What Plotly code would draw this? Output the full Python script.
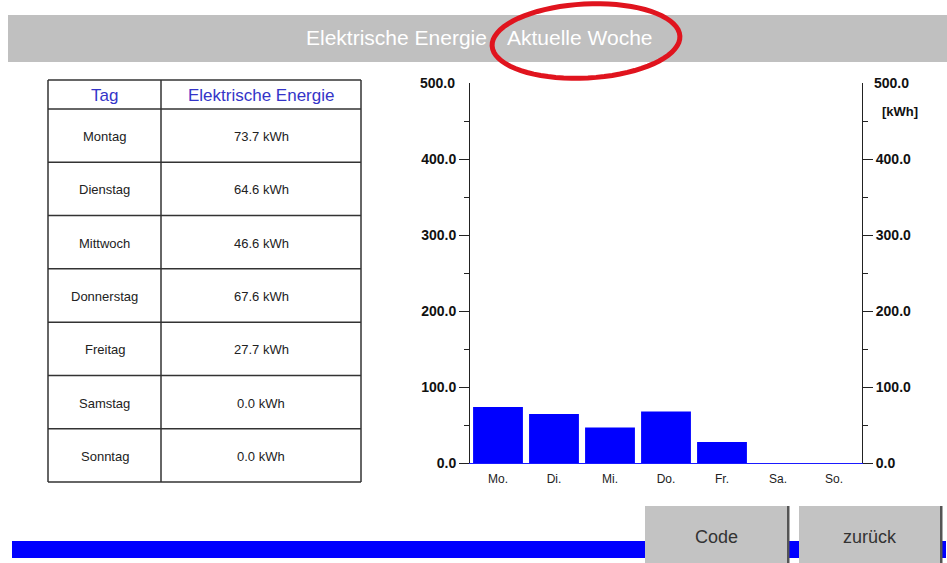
import numpy as np
import plotly.graph_objects as go

# Weekly electrical energy (kWh)
days_full = ["Montag", "Dienstag", "Mittwoch", "Donnerstag", "Freitag", "Samstag", "Sonntag"]
days_short = ["Mo.", "Di.", "Mi.", "Do.", "Fr.", "Sa.", "So."]
energy_kwh = [73.7, 64.6, 46.6, 67.6, 27.7, 0.0, 0.0]
axis_ticks = [0, 100, 200, 300, 400]
axis_minor = [50, 150, 250, 350, 450]
axis_max = 500

W, H = 947, 563
PL, PR, PT, PB = 470, 862, 83, 463  # plot area in pixels

FONT = "Liberation Sans, Arial, sans-serif"


def fx(x):
    return (x - PL) / (PR - PL)


def fy(y):
    return (PB - y) / (PB - PT)


def label(x, y, text, font, xanchor="center", yanchor="middle", yref="paper"):
    return dict(xref="paper", yref=yref, x=fx(x), y=fy(y) if yref == "paper" else y,
                xanchor=xanchor, yanchor=yanchor, text=text, showarrow=False, font=font)


fig = go.Figure()

fig.add_trace(go.Bar(
    x=days_short, y=energy_kwh,
    marker=dict(color="#0000ff", line=dict(width=0)),
    width=0.89, hoverinfo="x+y", showlegend=False,
))
fig.add_trace(go.Scatter(
    x=days_short, y=energy_kwh, yaxis="y2", mode="markers",
    marker=dict(opacity=0), hoverinfo="skip", showlegend=False,
))

shapes = []
ann = []

# Title bar
shapes.append(dict(type="rect", xref="paper", yref="paper", layer="below",
                   x0=fx(8), x1=fx(947), y0=fy(62), y1=fy(15),
                   fillcolor="#c0c0c0", line=dict(width=0)))
title_font = dict(family=FONT, size=21, color="white")
ann.append(label(489, 38, "Elektrische Energie", title_font, xanchor="right"))
ann.append(label(505, 38, "Aktuelle Woche", title_font, xanchor="left"))

# Red highlight ellipse (slightly tilted)
t = np.linspace(0, 2 * np.pi, 73)
cx, cy, a, b, rot = 586.0, 41.0, 94.0, 37.0, np.deg2rad(-3)
ex = cx + a * np.cos(t) * np.cos(rot) - b * np.sin(t) * np.sin(rot)
ey = cy + a * np.cos(t) * np.sin(rot) + b * np.sin(t) * np.cos(rot)
path = "M " + " L ".join(f"{fx(xx):.5f},{fy(yy):.5f}" for xx, yy in zip(ex, ey)) + " Z"
shapes.append(dict(type="path", xref="paper", yref="paper", path=path,
                   line=dict(color="#e0141e", width=5), fillcolor="rgba(0,0,0,0)", layer="above"))

# Table
tx0, tdiv, tx1 = 48, 161, 361
ty0, thead, ty1 = 80, 109, 482
row_h = (ty1 - thead) / len(days_full)
line_c = "#333333"
lw = 1.5
for yy in [ty0, thead] + [thead + row_h * (i + 1) for i in range(len(days_full))]:
    shapes.append(dict(type="line", xref="paper", yref="paper",
                       x0=fx(tx0), x1=fx(tx1), y0=fy(yy), y1=fy(yy),
                       line=dict(color=line_c, width=lw)))
for xx in [tx0, tdiv, tx1]:
    shapes.append(dict(type="line", xref="paper", yref="paper",
                       x0=fx(xx), x1=fx(xx), y0=fy(ty0), y1=fy(ty1),
                       line=dict(color=line_c, width=lw)))

head_font = dict(family=FONT, size=17, color="#3434c8")
cell_font = dict(family=FONT, size=13, color="#222222")
ann.append(label((tx0 + tdiv) / 2, (ty0 + thead) / 2 + 1, "Tag", head_font))
ann.append(label((tdiv + tx1) / 2, (ty0 + thead) / 2 + 1, "Elektrische Energie", head_font))
for i, (d, v) in enumerate(zip(days_full, energy_kwh)):
    yc = thead + row_h * (i + 0.5) + 1
    ann.append(label((tx0 + tdiv) / 2, yc, d, cell_font))
    ann.append(label((tdiv + tx1) / 2, yc, f"{v:.1f} kWh", cell_font))

# Axis top labels and unit
tick_font = dict(family=FONT, size=14, color="#111111", weight="bold")
ann.append(label(457, axis_max, f"{axis_max:.1f}", tick_font, xanchor="right", yref="y"))
ann.append(label(872, axis_max, f"{axis_max:.1f}", tick_font, xanchor="left", yref="y"))
ann.append(label(880, 111, "[kWh]", dict(family=FONT, size=13, color="#111111", weight="bold"),
                 xanchor="left"))

# Bottom status bar and buttons
shapes.append(dict(type="rect", xref="paper", yref="paper",
                   x0=fx(12), x1=fx(946), y0=fy(558), y1=fy(541),
                   fillcolor="#0000ff", line=dict(width=0)))
btn_font = dict(family=FONT, size=18, color="#333333")
for bx0, bx1, text in [(645, 787, "Code"), (799, 940, "zurück")]:
    shapes.append(dict(type="rect", xref="paper", yref="paper",
                       x0=fx(bx0), x1=fx(bx1), y0=fy(563), y1=fy(506),
                       fillcolor="#c3c3c3", line=dict(width=0)))
    shapes.append(dict(type="rect", xref="paper", yref="paper",
                       x0=fx(bx1), x1=fx(bx1 + 2.5), y0=fy(563), y1=fy(506),
                       fillcolor="#555555", line=dict(width=0)))
    ann.append(label((bx0 + bx1) / 2, 537, text, btn_font))

yaxis_common = dict(
    range=[0, axis_max], showgrid=False, zeroline=False,
    showline=True, linecolor="#222222", linewidth=1,
    tickmode="array", tickvals=axis_ticks, ticktext=[f"{v:.1f}" for v in axis_ticks],
    ticks="outside", ticklen=10, tickcolor="#222222", tickwidth=1,
    tickfont=tick_font,
    minor=dict(tickmode="array", tickvals=axis_minor, ticks="outside", ticklen=5,
               tickcolor="#222222", tickwidth=1, showgrid=False),
    fixedrange=True,
)

fig.update_layout(
    width=W, height=H, autosize=False,
    margin=dict(l=PL, r=W - PR, t=PT, b=H - PB, pad=0),
    paper_bgcolor="white", plot_bgcolor="white",
    font=dict(family=FONT),
    bargap=0.11,
    xaxis=dict(type="category", range=[-0.5, 6.5], showgrid=False, zeroline=False,
               showline=True, linecolor="#1a1aff", linewidth=1,
               ticks="outside", ticklen=5, tickcolor="rgba(0,0,0,0)",
               tickfont=dict(family=FONT, size=12, color="#222222"), fixedrange=True),
    yaxis=dict(side="left", **yaxis_common),
    yaxis2=dict(side="right", overlaying="y", **yaxis_common),
    shapes=shapes,
    annotations=ann,
    showlegend=False,
)

fig.write_html("out.html")
